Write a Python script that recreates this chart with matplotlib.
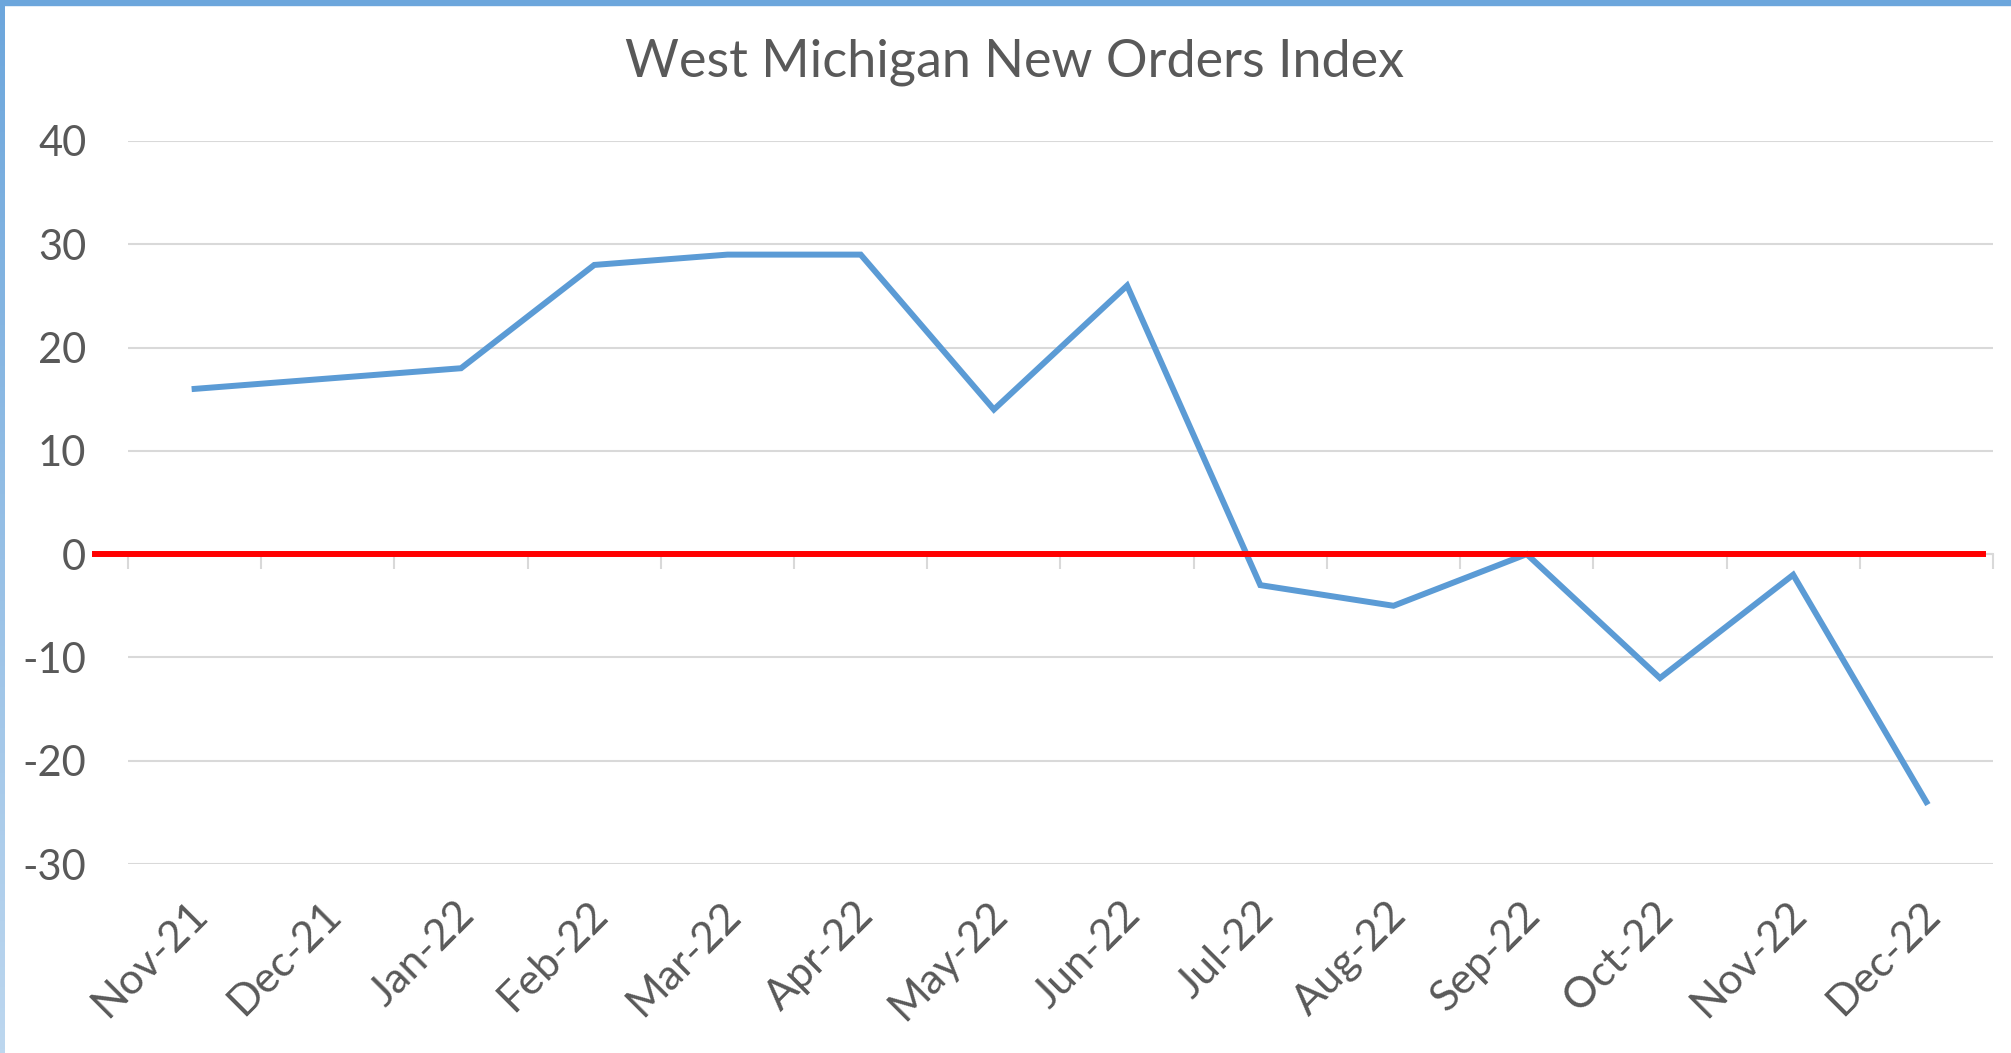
import numpy as np
import matplotlib.pyplot as plt
from matplotlib.colors import LinearSegmentedColormap
from matplotlib.patches import Rectangle
from matplotlib.transforms import ScaledTranslation

# Data
months = ['Nov-21', 'Dec-21', 'Jan-22', 'Feb-22', 'Mar-22', 'Apr-22', 'May-22',
          'Jun-22', 'Jul-22', 'Aug-22', 'Sep-22', 'Oct-22', 'Nov-22', 'Dec-22']
new_orders = [16, 17, 18, 28, 29, 29, 14, 26, -3, -5, 0, -12, -2, -24]
y_ticks = [-30, -20, -10, 0, 10, 20, 30, 40]

plt.rcParams['font.family'] = ['Lato', 'DejaVu Sans']
plt.rcParams['axes.unicode_minus'] = False
text_grey = '#595959'
grid_grey = '#d9d9d9'

W, H = 2011, 1053
fig = plt.figure(figsize=(W / 100, H / 100), dpi=100)

# plot area in pixels
left, right, top, bottom = 128, 1993, 141, 864
ax = fig.add_axes([left / W, 1 - bottom / H, (right - left) / W, (bottom - top) / H])

x = np.arange(len(months))
ax.set_xlim(-0.5, len(months) - 0.5)
ax.set_ylim(min(y_ticks), max(y_ticks))

ax.set_yticks(y_ticks)
ax.grid(axis='y', color=grid_grey, linewidth=1.5)
ax.set_axisbelow(True)
for s in ax.spines.values():
    s.set_visible(False)
ax.tick_params(axis='y', length=0, pad=30, labelsize=30, labelcolor=text_grey)

ax.set_xticks(x)
ax.set_xticklabels(months, rotation=45, ha='right', va='center', rotation_mode='anchor')
ax.tick_params(axis='x', length=0, pad=32, labelsize=31, labelcolor=text_grey)
shift = ScaledTranslation(5 / 72, 0, fig.dpi_scale_trans)
for lbl in ax.get_xticklabels():
    lbl.set_transform(lbl.get_transform() + shift)

# horizontal category axis sitting at zero
zero_frac = (0 - min(y_ticks)) / (max(y_ticks) - min(y_ticks))
sec = ax.secondary_xaxis(zero_frac)
sec.set_xticks(np.arange(len(months) + 1) - 0.5)
sec.set_xticklabels([])
sec.tick_params(axis='x', direction='out', length=11, width=1.5, color=grid_grey)
sec.spines['bottom'].set_color(grid_grey)
sec.spines['bottom'].set_linewidth(1.5)

ax.plot(x, new_orders, color='#5b9bd5', linewidth=4.3, solid_joinstyle='miter', zorder=3)

# red zero reference line (slightly overhangs the left of the plot area)
ax.axhline(0, xmin=-0.0177, xmax=0.9946, color='#ff0000', linewidth=4.3,
           clip_on=False, zorder=4)

fig.text(1015 / W, 1 - 62 / H, 'West Michigan New Orders Index', ha='center', va='center',
         fontsize=37.5, color=text_grey)

# chart frame: blue top edge and gradient left edge
fig.add_artist(Rectangle((0, 1 - 5 / H), 1, 5 / H, transform=fig.transFigure,
                         color='#6ca6dc', zorder=10))
edge = fig.add_axes([0, 0, 5 / W, 1])
cmap = LinearSegmentedColormap.from_list('edge', ['#6ca6dc', '#bdd7ef'])
edge.imshow(np.linspace(0, 1, 256).reshape(-1, 1), aspect='auto', cmap=cmap)
edge.axis('off')

fig.savefig('out.png', dpi=100)
